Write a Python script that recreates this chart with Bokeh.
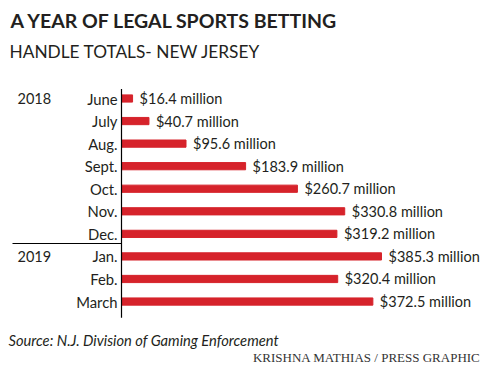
from bokeh.plotting import figure
from bokeh.models import Range1d
from bokeh.core.properties import value
from bokeh.embed import file_html
from bokeh.resources import INLINE

# ---- data ----
months = ["June", "July", "Aug.", "Sept.", "Oct.", "Nov.", "Dec.", "Jan.", "Feb.", "March"]
handle = [16.4, 40.7, 95.6, 183.9, 260.7, 330.8, 319.2, 385.3, 320.4, 372.5]
years = ["2018", "2019"]
year_rows = [0, 7]
value_labels = [f"${v} million" for v in handle]
rows = list(range(len(months)))

# ---- layout ----
W, H = 495, 368
AX = 121                    # frame pixel of zero
SCALE = 260 / 385.3         # px per million
x0 = -AX / SCALE
x1 = x0 + W / SCALE
ROW0, STEP = 98, 22.56
y_top = -ROW0 / STEP
y_bot = y_top + H / STEP

FONT = "Lato"
INK = "#231f20"
RED = "#d6232b"

p = figure(width=W, height=H, x_range=Range1d(x0, x1), y_range=Range1d(y_bot, y_top),
           output_backend="svg", toolbar_location=None, min_border=0,
           x_axis_location=None, y_axis_location=None)
p.grid.visible = False
p.outline_line_color = None
p.background_fill_color = "white"
p.border_fill_color = "white"
p.extra_x_ranges = {"px": Range1d(0, W)}
p.extra_y_ranges = {"px": Range1d(H, 0)}

# bars
p.hbar(y=rows, left=0, right=handle, height=0.32, color=RED)

# value labels
p.text(x=handle, y=rows, text=value_labels, x_offset=7, text_baseline="middle",
       text_font=value(FONT), text_font_size="14.5px", text_color=INK)
# month labels
p.text(x=[0] * len(rows), y=rows, text=months, x_offset=-4, text_align="right",
       text_baseline="middle", text_font=value(FONT), text_font_size="14.8px", text_color=INK)
# year labels
p.text(x=[0, 0], y=year_rows, text=years, x_offset=-104, text_baseline="middle",
       text_font=value(FONT), text_font_size="14.5px", text_color=INK)

# axis line
p.segment(x0=0, y0=-0.42, x1=0, y1=9.72, line_color="black", line_width=1.2)
# separator between years
p.segment(x0=12, y0=243, x1=AX, y1=243, line_color="black", line_width=1.2,
          x_range_name="px", y_range_name="px")

# titles
p.text(x=[10], y=[20], text=["A YEAR OF LEGAL SPORTS BETTING"], text_baseline="middle",
       text_font=value(FONT), text_font_style="bold", text_font_size="19.5px", text_color=INK,
       x_range_name="px", y_range_name="px")
p.text(x=[9], y=[51], text=["HANDLE TOTALS- NEW JERSEY"], text_baseline="middle",
       text_font=value(FONT), text_font_size="17.3px", text_color=INK,
       x_range_name="px", y_range_name="px")
p.text(x=[8], y=[339], text=["Source: N.J. Division of Gaming Enforcement"], text_baseline="middle",
       text_font=value(FONT), text_font_style="italic", text_font_size="14.7px", text_color=INK,
       x_range_name="px", y_range_name="px")
p.text(x=[480], y=[357], text=["KRISHNA MATHIAS / PRESS GRAPHIC"], text_baseline="middle",
       text_align="right", text_font=value("Liberation Serif"), text_font_size="13px",
       text_color="#333333", x_range_name="px", y_range_name="px")

open("out.html", "w").write(file_html(p, INLINE))
